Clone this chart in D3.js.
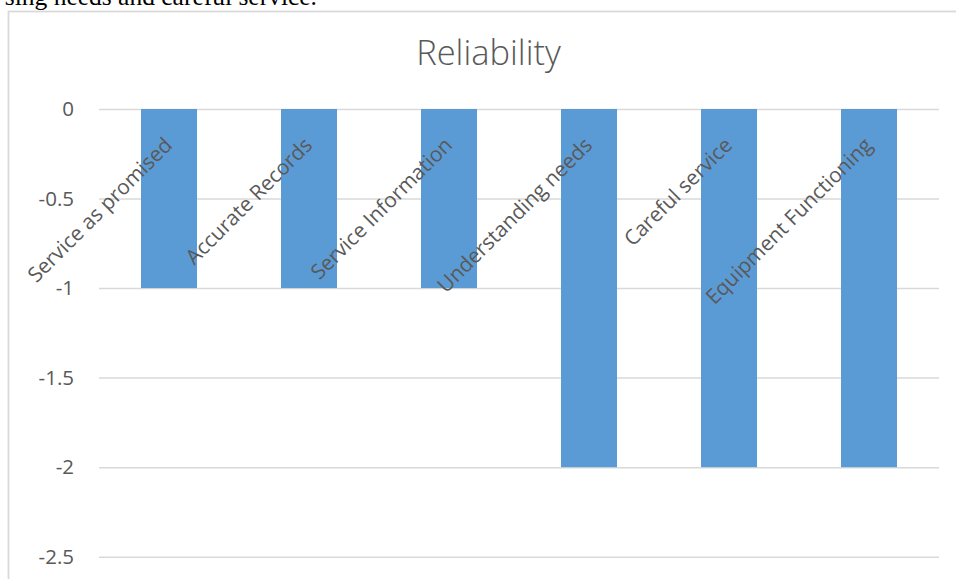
<!DOCTYPE html>
<html>
<head>
<meta charset="utf-8">
<script src="https://cdn.jsdelivr.net/npm/d3@7"></script>
<style>
  html, body { margin: 0; padding: 0; background: #fff; }
  svg { display: block; }
</style>
</head>
<body>
<svg id="chart" width="956" height="579"></svg>
<script>
// Reliability scores per service dimension
const categories = [
  "Service as promised",
  "Accurate Records",
  "Service Information",
  "Understanding needs",
  "Careful service",
  "Equipment Functioning"
];
const values = [-1, -1, -1, -2, -2, -2];
const yTicks = [0, -0.5, -1, -1.5, -2, -2.5];
const chartTitle = "Reliability";
const bodyText = "sing needs and careful service.";

const FONT = "'Open Sans', Lato, sans-serif";
const svg = d3.select("#chart");

const plot = { left: 99, right: 939, top: 109, bottom: 556.7 };

// Running document text above the chart frame
svg.append("text")
  .attr("x", 317).attr("y", 5)
  .attr("text-anchor", "end")
  .attr("font-family", "'Liberation Serif', 'Times New Roman', serif")
  .attr("font-size", 25.5)
  .attr("fill", "#000")
  .text(bodyText);

// Chart frame
svg.append("rect")
  .attr("x", 8.5).attr("y", 11.5)
  .attr("width", 980).attr("height", 600)
  .attr("fill", "none")
  .attr("stroke", "#d9d9d9")
  .attr("stroke-width", 1.8);

const x = d3.scaleBand()
  .domain(categories)
  .range([plot.left, plot.right])
  .paddingInner(0.6)
  .paddingOuter(0.3);

const y = d3.scaleLinear()
  .domain([-2.5, 0])
  .range([plot.bottom, plot.top]);

// Horizontal gridlines + value labels
const yAxis = d3.axisLeft(y)
  .tickValues(yTicks)
  .tickSize(-(plot.right - plot.left))
  .tickPadding(25)
  .tickFormat(d => String(d));

const gy = svg.append("g")
  .attr("transform", `translate(${plot.left},0)`)
  .call(yAxis);
gy.select(".domain").remove();
gy.selectAll(".tick line")
  .attr("stroke", "#d9d9d9")
  .attr("stroke-width", 1.5);
gy.selectAll(".tick text")
  .attr("fill", "#595959")
  .attr("font-family", FONT)
  .attr("font-size", 20.5);

// Bars
svg.append("g")
  .selectAll("rect")
  .data(values)
  .join("rect")
  .attr("x", (d, i) => x(categories[i]))
  .attr("y", d => y(Math.max(0, d)))
  .attr("width", x.bandwidth())
  .attr("height", d => Math.abs(y(d) - y(0)))
  .attr("fill", "#5b9bd5");

// Category labels, rotated, hanging from the zero axis
svg.append("g")
  .selectAll("text")
  .data(categories)
  .join("text")
  .attr("transform", d => `translate(${x(d) + x.bandwidth() / 2 + 4.5},${y(0) + 37.5}) rotate(-45)`)
  .attr("text-anchor", "end")
  .attr("fill", "#595959")
  .attr("font-family", FONT)
  .attr("font-size", 20.8)
  .text(d => d);

// Title
svg.append("text")
  .attr("x", 488.5).attr("y", 65)
  .attr("text-anchor", "middle")
  .attr("fill", "#595959")
  .attr("font-family", FONT)
  .attr("font-weight", 300)
  .attr("font-size", 34.5)
  .text(chartTitle);
</script>
</body>
</html>
